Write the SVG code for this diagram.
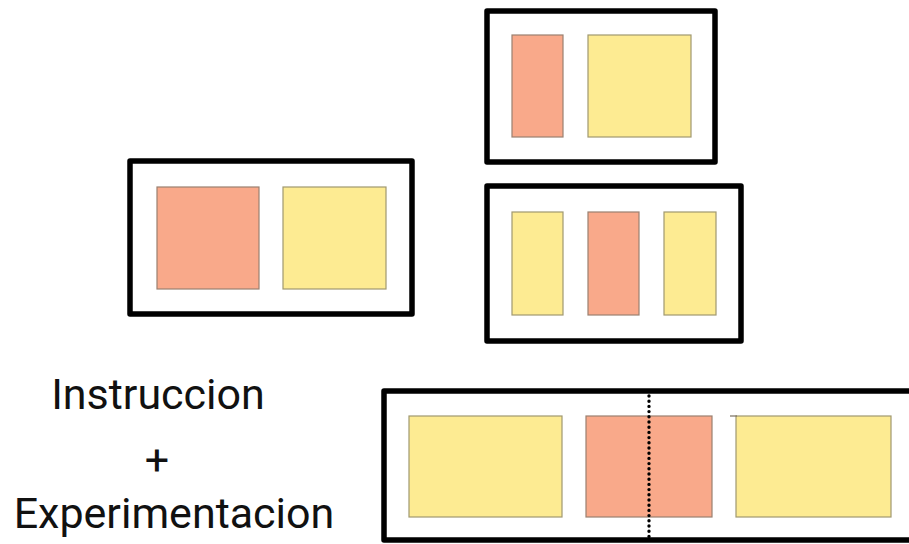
<svg xmlns="http://www.w3.org/2000/svg" width="909" height="544" viewBox="0 0 909 544">
<style>
.frame{fill:none;stroke:#000;stroke-width:5.5;stroke-linejoin:round}
.o{fill:#F9A98A;stroke:#9a8070;stroke-width:1.2}
.y{fill:#FDEB92;stroke:#a09870;stroke-width:1.2}
.t{font-family:Roboto,"Liberation Sans",sans-serif;font-size:43px;fill:#111}
</style>
<rect width="909" height="544" fill="#fff"/>
<g id="box-top">
<rect class="frame" x="487" y="11" width="228" height="151"/>
<rect class="o" x="512" y="35" width="51" height="102"/>
<rect class="y" x="588" y="35" width="103" height="102"/>
</g>
<g id="box-left">
<rect class="frame" x="130" y="161" width="282" height="153"/>
<rect class="o" x="157" y="187" width="102" height="102"/>
<rect class="y" x="283" y="187" width="103" height="102"/>
</g>
<g id="box-middle">
<rect class="frame" x="487" y="186" width="254" height="155"/>
<rect class="y" x="512" y="212" width="51" height="103"/>
<rect class="o" x="588" y="212" width="51" height="103"/>
<rect class="y" x="664" y="212" width="52" height="103"/>
</g>
<g id="box-bottom">
<rect class="frame" x="384" y="391" width="540" height="149"/>
<rect class="y" x="409" y="416" width="153" height="101"/>
<rect class="o" x="586" y="416" width="126" height="101"/>
<rect class="y" x="736" y="416" width="155" height="101"/>
<line x1="730" y1="416" x2="737" y2="416" stroke="#7a7060" stroke-width="1.2"/>
</g>
<g id="connectors">
<line x1="649" y1="396" x2="649" y2="540" stroke="#000" stroke-width="3.4" stroke-linecap="round" stroke-dasharray="0 5.2"/>
</g>
<g id="label">
<text class="t" x="158" y="409" text-anchor="middle">Instruccion</text>
<text class="t" x="157" y="475" text-anchor="middle">+</text>
<text class="t" x="174" y="528" text-anchor="middle">Experimentacion</text>
</g>
</svg>
